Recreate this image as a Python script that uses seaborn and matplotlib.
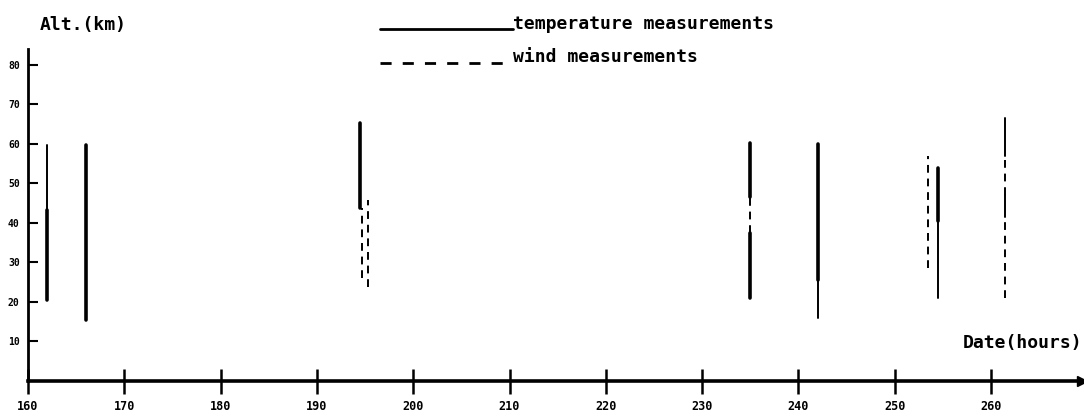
import numpy as np
import pandas as pd
import matplotlib
matplotlib.use("Agg")
import matplotlib.pyplot as plt
from matplotlib.lines import Line2D
import seaborn as sns

# ---- data ----
seg_date = [162.0, 162.0, 166.0, 194.5, 194.7, 195.3,
            235.0, 235.0, 235.0, 242.0, 242.0, 253.5,
            254.5, 254.5, 261.5, 261.5, 261.5, 261.5]
seg_low  = [43.3, 20.5, 15.4, 43.8, 26.0, 23.8,
            46.6, 37.5, 21.0, 25.6, 16.0, 28.6,
            40.5, 21.0, 57.0, 47.0, 41.5, 21.0]
seg_high = [59.7, 43.3, 59.7, 65.3, 43.8, 45.8,
            60.3, 46.6, 37.5, 60.0, 25.6, 57.0,
            54.0, 40.5, 66.5, 57.0, 47.0, 41.5]
seg_kind = ["temperature", "temperature", "temperature", "temperature", "wind", "wind",
            "temperature", "wind", "temperature", "temperature", "temperature", "wind",
            "temperature", "temperature", "temperature", "wind", "temperature", "wind"]
seg_weight = ["thin", "thick", "thick", "thick", "thin", "thin",
              "thick", "thin", "thick", "thick", "thin", "thin",
              "thick", "thin", "thin", "thin", "thin", "thin"]

x_ticks = [160, 170, 180, 190, 200, 210, 220, 230, 240, 250, 260]
y_ticks = [10, 20, 30, 40, 50, 60, 70, 80]

# ---- build long table: two points per segment ----
rows = []
for i, (d, lo, hi, k, w) in enumerate(zip(seg_date, seg_low, seg_high, seg_kind, seg_weight)):
    rows.append(dict(seg=i, date=d, alt=lo, kind=k, weight=w))
    rows.append(dict(seg=i, date=d, alt=hi, kind=k, weight=w))
df = pd.DataFrame(rows)

sns.set_theme(style="ticks")
plt.rcParams["font.family"] = ["DejaVu Sans Mono", "DejaVu Sans"]
plt.rcParams["font.weight"] = "bold"
plt.rcParams["text.color"] = "black"

W, H = 1084, 417
fig = plt.figure(figsize=(W / 100, H / 100), dpi=100)
ax = fig.add_axes([28 / W, (H - 381) / H, (1082 - 28) / W, (381 - 49) / H])

sns.lineplot(data=df, x="date", y="alt", units="seg", estimator=None, sort=False,
             style="kind", dashes={"temperature": "", "wind": (4, 3)},
             size="weight", sizes={"thick": 2.6, "thin": 1.4},
             color="black", legend=False, ax=ax)

ax.set_xlim(160, 160 + (1082 - 28) / 9.63)
ax.set_ylim(0, 84)
ax.set_xlabel("")
ax.set_ylabel("")

for s in ["top", "right"]:
    ax.spines[s].set_visible(False)
ax.spines["left"].set_color("black")
ax.spines["left"].set_linewidth(2.0)
ax.spines["bottom"].set_color("black")
ax.spines["bottom"].set_linewidth(2.6)

ax.set_xticks(x_ticks)
ax.set_xticklabels([str(v) for v in x_ticks], fontsize=8.5, fontweight="bold")
ax.set_yticks(y_ticks)
ax.set_yticklabels([str(v) for v in y_ticks], fontsize=7, fontweight="bold")
ax.tick_params(axis="x", which="major", bottom=True, direction="inout", length=18,
               width=1.8, pad=5, color="black", labelcolor="black")
ax.tick_params(axis="y", which="major", left=True, direction="in", length=7,
               width=1.5, pad=6, color="black", labelcolor="black")

# arrow head at right end of the x axis
ax.plot(1.0, 0, marker=">", color="black", markersize=7,
        transform=ax.get_yaxis_transform(), clip_on=False)

# axis titles
fig.text(40 / W, 1 - 25 / H, "Alt.(km)", fontsize=13, fontweight="bold",
         va="center", ha="left", color="black")
fig.text(1082 / W, 1 - 343 / H, "Date(hours)", fontsize=13, fontweight="bold",
         va="center", ha="right", color="black")

# legend drawn like the original
fig.add_artist(Line2D([380 / W, 513 / W], [1 - 29 / H, 1 - 29 / H],
                      color="black", lw=2.0))
fig.text(513 / W, 1 - 24 / H, "temperature measurements", fontsize=13,
         fontweight="bold", va="center", ha="left", color="black")
fig.add_artist(Line2D([380 / W, 513 / W], [1 - 63 / H, 1 - 63 / H],
                      color="black", lw=2.0, dashes=(4, 4)))
fig.text(513 / W, 1 - 57 / H, "wind measurements", fontsize=13,
         fontweight="bold", va="center", ha="left", color="black")

fig.savefig("out.png", dpi=100, facecolor="white")
